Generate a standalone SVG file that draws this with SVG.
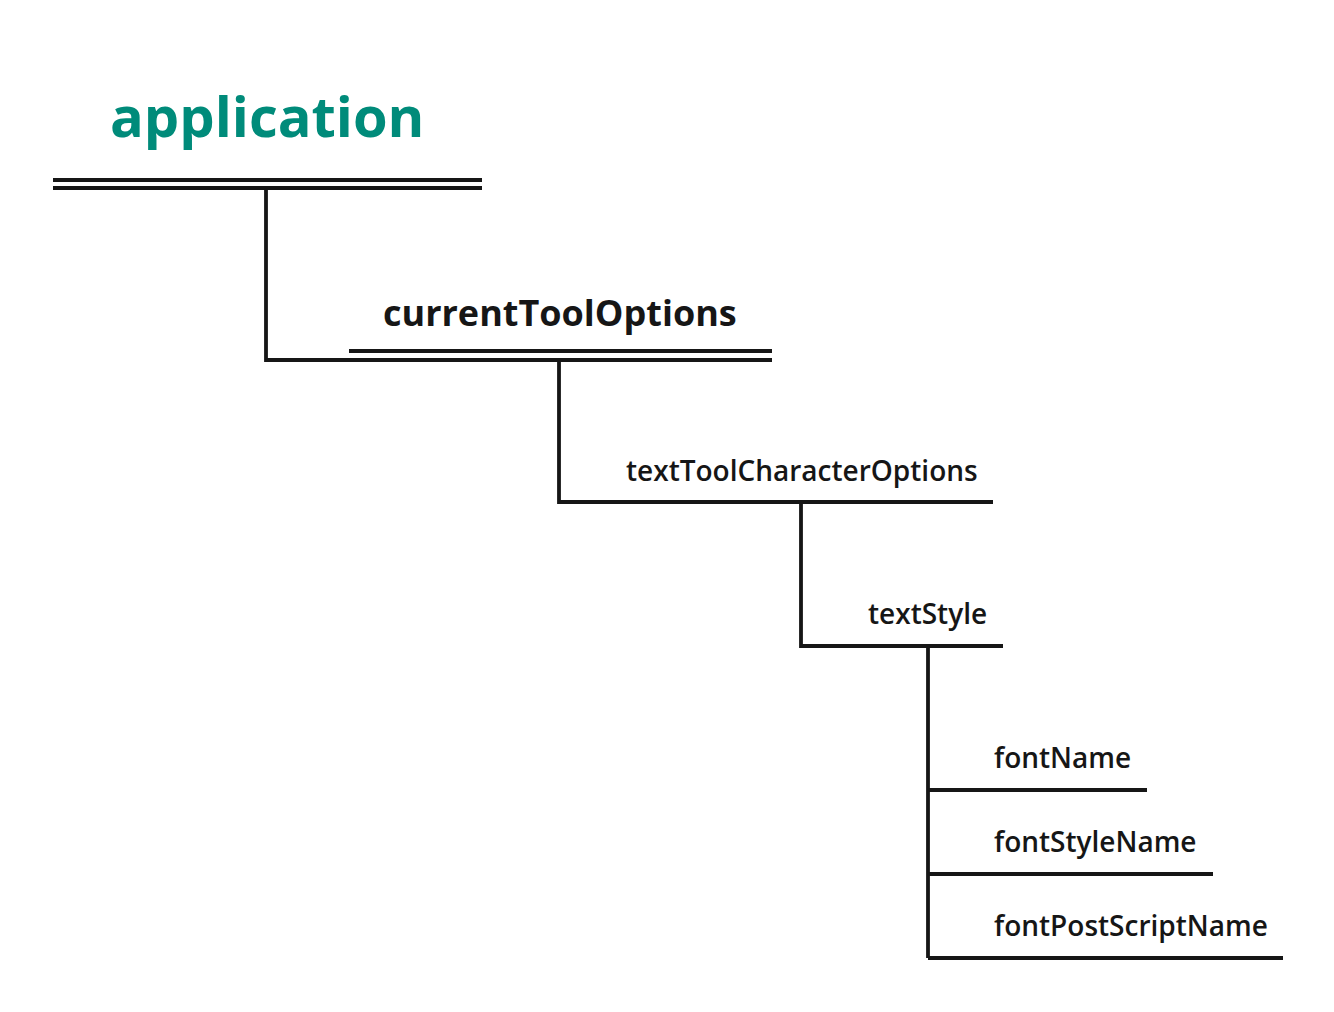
<svg xmlns="http://www.w3.org/2000/svg" width="1334" height="1012" viewBox="0 0 1334 1012">
<style>
.ln{stroke:#161616;stroke-width:3.8;fill:none;stroke-linecap:butt}
.t{font-family:"Open Sans","Noto Sans",sans-serif;fill:#161616}
.t1{font-weight:700;font-size:56px;fill:#008B7A}
.t2{font-weight:700;font-size:36px}
.t3{font-weight:600;font-size:28px}
</style>
<rect width="1334" height="1012" fill="#ffffff"/>
<g id="connectors">
<path class="ln" d="M266 188 V360 H349"/>
<path class="ln" d="M559 360 V502 H610"/>
<path class="ln" d="M801 502 V646 H850"/>
<path class="ln" d="M928 646 V958"/>
<path class="ln" d="M928 790 H975"/>
<path class="ln" d="M928 874 H975"/>
<path class="ln" d="M928 958 H975"/>
</g>
<g id="node-application">
<text class="t t1" x="110" y="137">application</text>
<path class="ln" d="M53 180 H482 M53 188 H482"/>
</g>
<g id="node-currentToolOptions">
<text class="t t2" x="383" y="326">currentToolOptions</text>
<path class="ln" d="M349 351 H772 M349 360 H772"/>
</g>
<g id="node-textToolCharacterOptions">
<text class="t t3" x="626" y="481">textToolCharacterOptions</text>
<path class="ln" d="M610 502 H993"/>
</g>
<g id="node-textStyle">
<text class="t t3" x="868" y="624">textStyle</text>
<path class="ln" d="M850 646 H1003"/>
</g>
<g id="node-fontName">
<text class="t t3" x="994" y="768">fontName</text>
<path class="ln" d="M975 790 H1147"/>
</g>
<g id="node-fontStyleName">
<text class="t t3" x="994" y="852">fontStyleName</text>
<path class="ln" d="M975 874 H1213"/>
</g>
<g id="node-fontPostScriptName">
<text class="t t3" x="994" y="936">fontPostScriptName</text>
<path class="ln" d="M975 958 H1283"/>
</g>
</svg>
